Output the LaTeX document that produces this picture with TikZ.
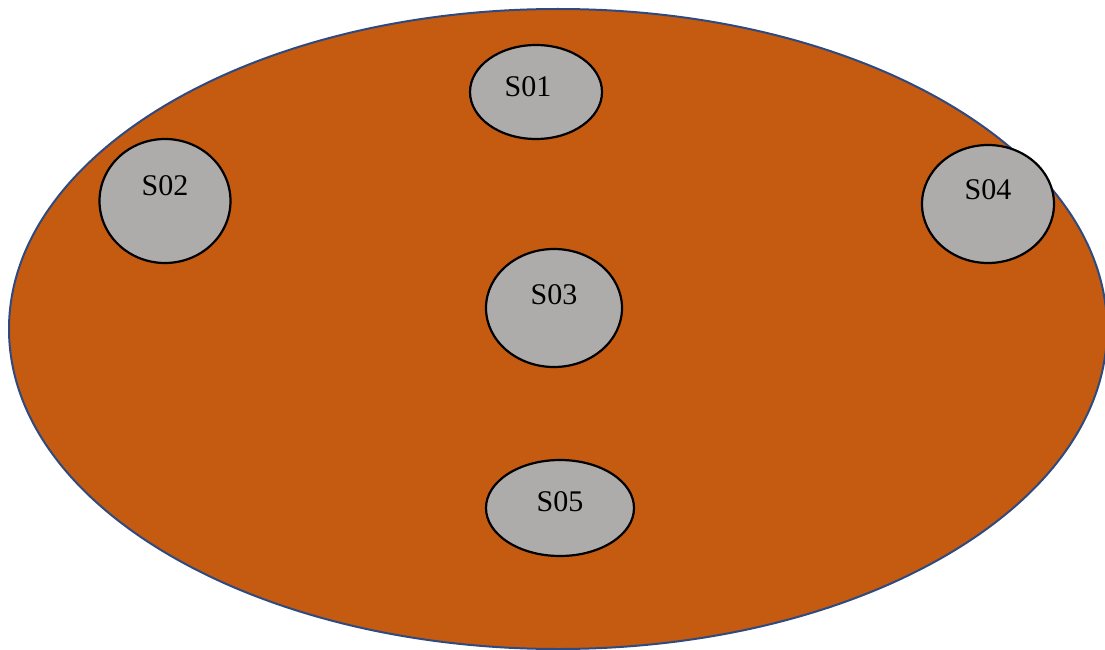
\documentclass[tikz,border=0pt]{standalone}
\usepackage{fontspec}
\setmainfont{Liberation Serif}
\usetikzlibrary{shapes.geometric}
\definecolor{bigfill}{HTML}{C55A11}
\definecolor{bigline}{HTML}{2F4A7F}
\definecolor{smallfill}{HTML}{AEABAB}
\tikzset{
  bigell/.style={ellipse, fill=bigfill, draw=bigline, line width=2pt, inner sep=0pt},
  smallell/.style={ellipse, fill=smallfill, draw=black, line width=2.2pt, inner sep=0pt},
  lab/.style={font=\fontsize{30}{32}\selectfont, inner sep=0pt}
}
\begin{document}
\begin{tikzpicture}[x=1pt,y=-1pt]
\useasboundingbox (0,0) rectangle (1105,650);
\node[bigell, minimum width=1098pt, minimum height=640pt] (big) at (558,329) {};
\node[smallell, minimum width=132pt, minimum height=94pt] (s1) at (536,92) {};
\node[smallell, minimum width=131pt, minimum height=124pt] (s2) at (165,201) {};
\node[smallell, minimum width=136pt, minimum height=118pt] (s3) at (554,308) {};
\node[smallell, minimum width=132pt, minimum height=118pt] (s4) at (988,204) {};
\node[smallell, minimum width=148pt, minimum height=96pt] (s5) at (560,508) {};
\node[lab] (t1) at (528,87) {S01};
\node[lab] (t2) at (165,186) {S02};
\node[lab] (t3) at (554,295) {S03};
\node[lab] (t4) at (988,190) {S04};
\node[lab] (t5) at (560,502) {S05};
\end{tikzpicture}
\end{document}
